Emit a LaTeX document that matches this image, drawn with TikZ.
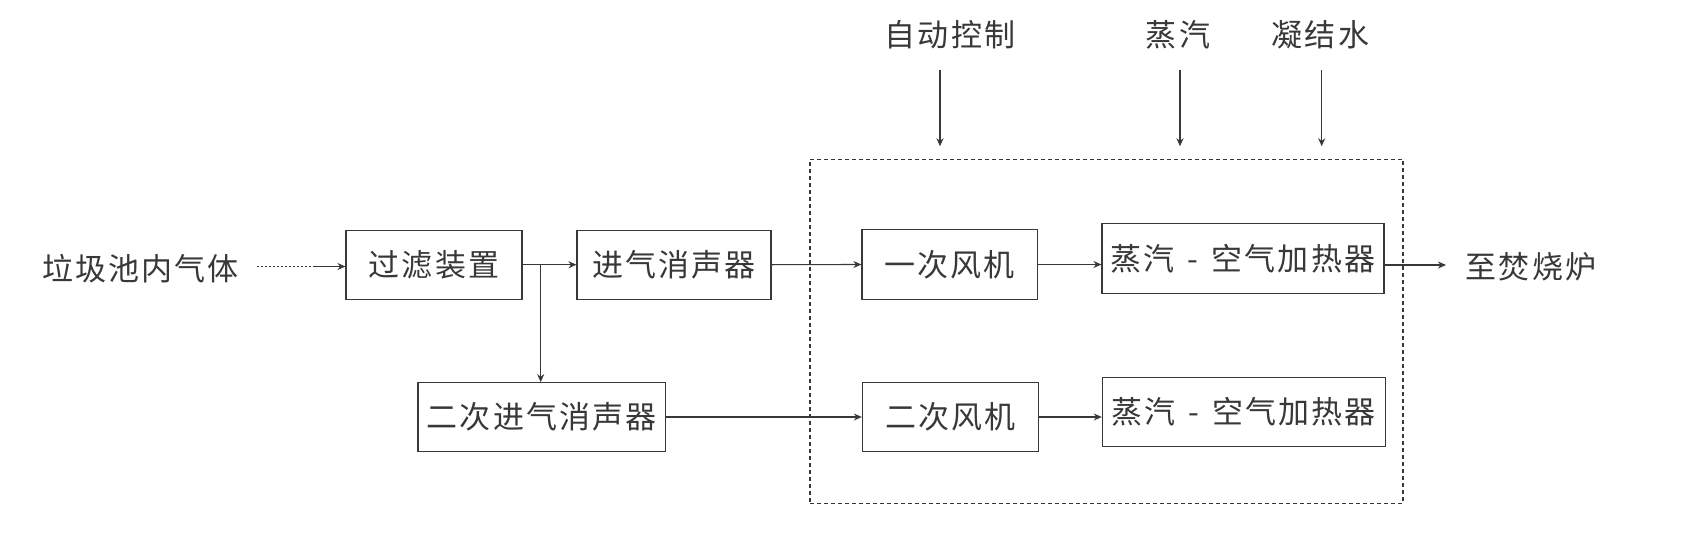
\documentclass[tikz,border=0pt]{standalone}
\usepackage{fontspec}
\newfontfamily\cjk[LetterSpace=7]{Noto Sans CJK SC}
\usetikzlibrary{arrows.meta}
\definecolor{ink}{gray}{0.22}
\begin{document}
\begin{tikzpicture}[x=1pt,y=-1pt,
  txt/.style={inner sep=0pt, text=ink, font=\cjk\fontsize{31}{37}\selectfont},
  box/.style={txt, draw=ink, line width=1.1pt},
  arr/.style={draw=ink, line width=1.1pt, -{Stealth[length=8pt,width=7pt]}},
  grp/.style={draw=ink, line width=1.1pt, dash pattern=on 4pt off 3pt, inner sep=0pt}]
\useasboundingbox (0,0) rectangle (1681,533);
% group (dashed)
\node[grp, minimum width=593pt, minimum height=344pt] (grpbox) at (1106.5,331.3) {};
% texts
\node[txt] (src) at (140.5,269) {垃圾池内气体};
\node[txt] (out) at (1531,267) {至焚烧炉};
\node[txt] (ctrl) at (950,35) {自动控制};
\node[txt] (steam) at (1178,35) {蒸汽};
\node[txt] (cond) at (1320.5,35) {凝结水};
% boxes
\node[box, minimum width=176pt, minimum height=69pt] (filter) at (434,264.7) {过滤装置};
\node[box, minimum width=194pt, minimum height=69pt] (muf1) at (674,264.7) {进气消声器};
\node[box, minimum width=175.5pt, minimum height=70pt] (fan1) at (949.7,264.5) {一次风机};
\node[box, minimum width=282pt, minimum height=70pt] (heat1) at (1243,258.3) {蒸汽\hspace{13pt}-\hspace{13pt}空气加热器};
\node[box, minimum width=247.7pt, minimum height=69pt] (muf2) at (541.8,417.2) {二次进气消声器};
\node[box, minimum width=176pt, minimum height=69pt] (fan2) at (950.4,417) {二次风机};
\node[box, minimum width=282.7pt, minimum height=69.3pt] (heat2) at (1243.7,411.7) {蒸汽\hspace{13pt}-\hspace{13pt}空气加热器};
% source dotted arrow
\coordinate (d1) at (257,266.5);
\coordinate (d2) at (313,266.5);
\draw[ink, line width=1.6pt, dash pattern=on 2pt off 2pt] (d1) -- (d2);
\draw[arr] (d2) -- (d2 -| filter.west);
% main row
\draw[arr] (filter.east) -- (muf1.west);
\coordinate (j) at (540.7,264.7);
\draw[arr] (j) -- (j |- muf2.north);
\draw[arr] (muf1.east) -- (fan1.west);
\draw[arr] (fan1.east) -- (fan1.east -| heat1.west);
\coordinate (o1) at (1446,265);
\draw[arr] (o1 -| heat1.east) -- (o1);
% second row
\draw[arr] (muf2.east |- fan2.west) -- (fan2.west);
\draw[arr] (fan2.east) -- (fan2.east -| heat2.west);
% top inputs
\coordinate (t1) at (940,70);
\coordinate (t2) at (1180,70);
\coordinate (t3) at (1321.7,70);
\draw[arr] (t1) -- ([yshift=12.5pt]t1 |- grpbox.north);
\draw[arr] (t2) -- ([yshift=12.5pt]t2 |- grpbox.north);
\draw[arr] (t3) -- ([yshift=12.5pt]t3 |- grpbox.north);
\end{tikzpicture}
\end{document}
